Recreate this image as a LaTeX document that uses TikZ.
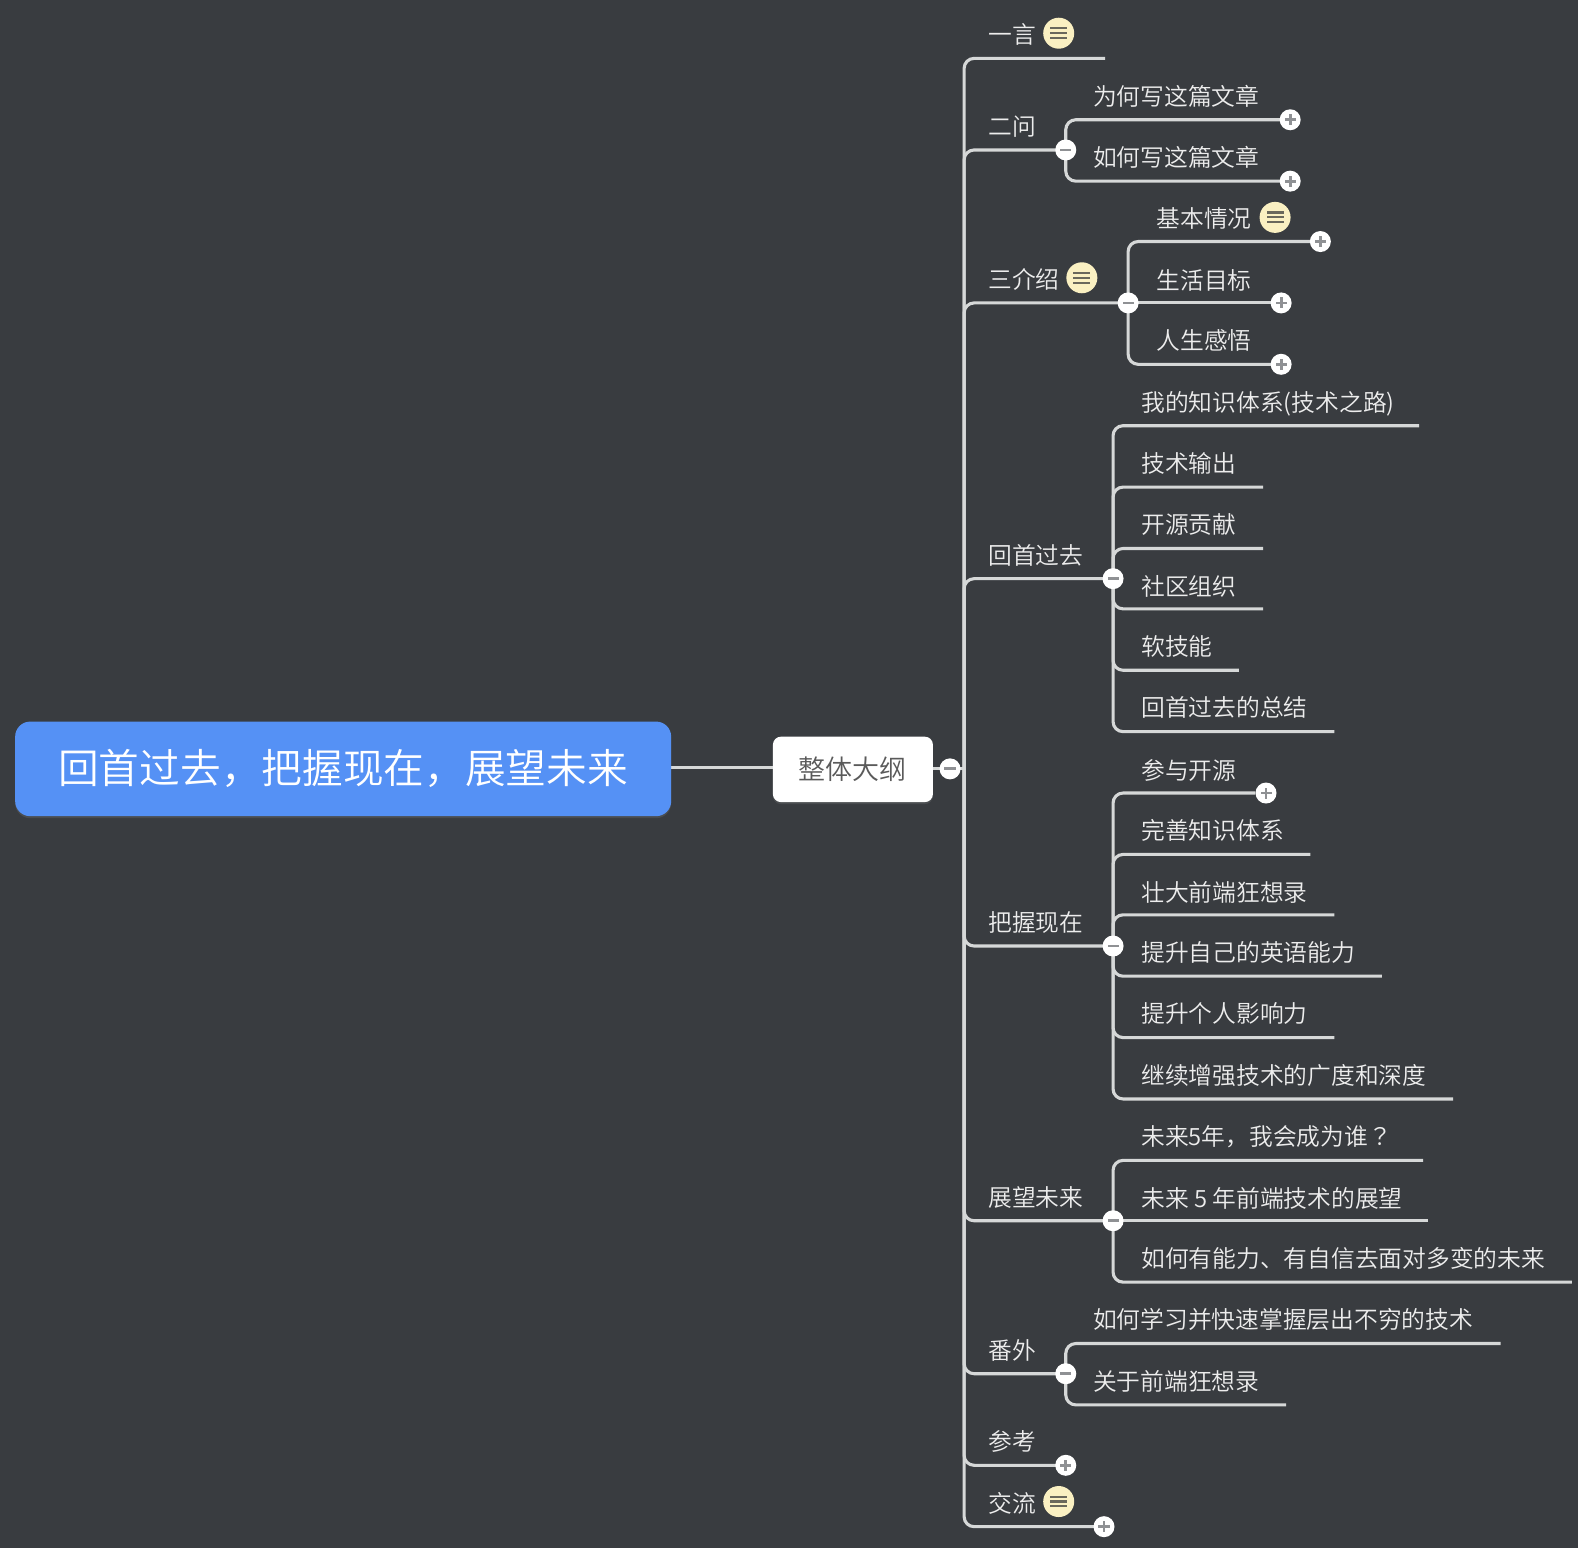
\documentclass[tikz,border=0pt]{standalone}
\usepackage{fontspec}
\setmainfont{Noto Sans CJK SC DemiLight}
\newfontfamily\tcfont{Noto Sans CJK TC DemiLight}
\usetikzlibrary{calc,shadows}
\pgfdeclarelayer{back}
\pgfsetlayers{back,main}
\definecolor{bgc}{HTML}{393C40}
\definecolor{linec}{HTML}{D6D8D8}
\definecolor{txtc}{HTML}{EDEDED}
\definecolor{bluec}{HTML}{5591F5}
\definecolor{boxtxt}{HTML}{5A5A5A}
\definecolor{barc}{HTML}{8F9194}
\definecolor{iconc}{HTML}{FAF0C2}
\definecolor{icondark}{HTML}{6A685C}
\tikzset{
 link/.style={draw=linec,line width=3.1pt,rounded corners=10pt},
 topic/.style={anchor=west,inner sep=0pt,text=txtc,font=\fontsize{23.75pt}{24pt}\selectfont,text height=20pt,text depth=2pt,yshift=-0.5pt},
 knob/.style={circle,fill=white,inner sep=0pt,minimum size=21pt},
 minusknob/.style={knob,path picture={\fill[barc] ($(path picture bounding box.center)+(-5.5,-1.4)$) rectangle ($(path picture bounding box.center)+(5.5,1.4)$);}},
 plusknob/.style={knob,path picture={\fill[barc] ($(path picture bounding box.center)+(-5.5,-1.4)$) rectangle ($(path picture bounding box.center)+(5.5,1.4)$);\fill[barc] ($(path picture bounding box.center)+(-1.4,-5.5)$) rectangle ($(path picture bounding box.center)+(1.4,5.5)$);}},
 noteicon/.style={circle,fill=iconc,inner sep=0pt,minimum size=31pt,path picture={
  \foreach \d in {-4.8,0,4.8}{\fill[icondark] ($(path picture bounding box.center)+(-8.5,\d-1.05)$) rectangle ($(path picture bounding box.center)+(8.5,\d+1.05)$);}}},
}
\begin{document}
\begin{tikzpicture}[x=1.00638pt,y=-1.00638pt]
\useasboundingbox (0,0) rectangle (1568,1538);
\begin{pgfonlayer}{back}
\fill[bgc] (0,0) rectangle (1568,1538);
\end{pgfonlayer}
% central
\node[fill=bluec,rounded corners=15pt,minimum width=656pt,minimum height=94.6pt,inner sep=0pt,text=white,font=\fontsize{40.7pt}{42pt}\selectfont,drop shadow={opacity=.25,shadow xshift=0pt,shadow yshift=-2pt}] (title) at (341,764) {\raisebox{-1pt}{回首过去，把握现在，展望未来}};
\node[fill=white,rounded corners=8pt,minimum width=160pt,minimum height=65.4pt,inner sep=0pt,text=boxtxt,font=\fontsize{27pt}{28pt}\selectfont,drop shadow={opacity=.25,shadow xshift=0pt,shadow yshift=-2pt}] (outline) at (847.5,764.5) {整体大纲};
\node[minusknob] (m0) at (944,764) {};
\coordinate (lk) at (720,762.4);
\coordinate (trunk) at (958,764);
% level one labels
\node[topic] (t1) at (982,34) {一言};
\node[noteicon] (i1) at (1052,33) {};
\coordinate (e1) at (1098,58);
\node[topic] (t2) at (982,125) {二问};
\node[minusknob] (m2) at (1059,149) {};
\node[topic] (t3) at (982,277) {三介绍};
\node[noteicon] (i3) at (1075,276) {};
\node[minusknob] (m3) at (1121,301) {};
\node[topic] (t4) at (982,551) {回首过去};
\node[minusknob] (m4) at (1106,575) {};
\node[topic] (t5) at (982,916) {把握现在};
\node[minusknob] (m5) at (1106,940) {};
\node[topic] (t6) at (982,1189) {展望未来};
\node[minusknob] (m6) at (1106,1213) {};
\node[topic] (t7) at (982,1341) {番外};
\node[minusknob] (m7) at (1059,1365) {};
\node[topic] (t8) at (982,1432) {参考};
\node[plusknob] (p8) at (1059,1456) {};
\node[topic] (t9) at (982,1493) {交流};
\node[noteicon] (i9) at (1052,1492) {};
\node[plusknob] (p9) at (1097,1517) {};
% er wen
\node[topic] (a1) at (1086,95) {为何写这篇文章};
\node[plusknob] (pa1) at (1282,119) {};
\node[topic] (a2) at (1086,156) {如何写这篇文章};
\node[plusknob] (pa2) at (1282,180) {};
% san jieshao
\node[topic] (b1) at (1149,217) {基本情况};
\node[noteicon] (ib1) at (1267,216) {};
\node[plusknob] (pb1) at (1312,240) {};
\node[topic] (b2) at (1149,278) {生活目标};
\node[plusknob] (pb2) at (1273,301) {};
\node[topic] (b3) at (1149,338) {人生感悟};
\node[plusknob] (pb3) at (1273,362) {};
% huishou
\node[topic] (c1) at (1134,399) {我的知识体系(技术之路)};
\coordinate (ec1) at (1410,423);
\node[topic] (c2) at (1134,460) {技术输出};
\coordinate (ec2) at (1255,484);
\node[topic] (c3) at (1134,521) {开源贡献};
\coordinate (ec3) at (1255,545);
\node[topic] (c4) at (1134,582) {社区组织};
\coordinate (ec4) at (1255,605);
\node[topic] (c5) at (1134,642) {软技能};
\coordinate (ec5) at (1231,666);
\node[topic] (c6) at (1134,703) {回首过去的总结};
\coordinate (ec6) at (1326,727);
% bawo
\node[topic] (d1) at (1134,765) {参与开源};
\node[plusknob] (pd1) at (1258,788) {};
\node[topic] (d2) at (1134,825) {完善知识体系};
\coordinate (ed2) at (1302,849);
\node[topic] (d3) at (1134,886) {壮大前端狂想录};
\coordinate (ed3) at (1326,909);
\node[topic] (d4) at (1134,946) {提升自己的英语能力};
\coordinate (ed4) at (1373,970);
\node[topic] (d5) at (1134,1007) {提升个人影响力};
\coordinate (ed5) at (1326,1031);
\node[topic] (d6) at (1134,1068) {继续增强技术的广度和深度};
\coordinate (ed6) at (1444,1092);
% zhanwang
\node[topic] (f1) at (1134,1129) {未来5年，我会成为谁{\tcfont ？}};
\coordinate (ef1) at (1414,1153);
\node[topic] (f2) at (1134,1190) {未来 5 年前端技术的展望};
\coordinate (ef2) at (1419,1213);
\node[topic] (f3) at (1134,1250) {如何有能力、有自信去面对多变的未来};
\coordinate (ef3) at (1562,1274);
% fanwai
\node[topic] (g1) at (1086,1311) {如何学习并快速掌握层出不穷的技术};
\coordinate (eg1) at (1491,1335);
\node[topic] (g2) at (1086,1372) {关于前端狂想录};
\coordinate (eg2) at (1278,1396);
\begin{pgfonlayer}{back}
\draw[link] (title.east |- lk) -- (outline.west |- lk);
\draw[link] (outline.east |- m0) -- (m0.center);
\draw[link] (m0.center) -- (trunk);
\foreach \e in {e1,m2,m3,m4,m5,m6,m7,p8,p9}{\draw[link] (trunk) |- (\e.center);}
\foreach \e in {pa1,pa2}{\draw[link] (m2.center) |- (\e.center);}
\foreach \e in {pb1,pb3}{\draw[link] (m3.center) |- (\e.center);}
\draw[link] (m3.center) -- (pb2.center);
\foreach \e in {ec1,ec2,ec3,ec4,ec5,ec6}{\draw[link] (m4.center) |- (\e);}
\foreach \e in {pd1,ed2,ed3,ed4,ed5,ed6}{\draw[link] (m5.center) |- (\e);}
\foreach \e in {ef1,ef3}{\draw[link] (m6.center) |- (\e);}
\draw[link] (m6.center) -- (ef2);
\foreach \e in {eg1,eg2}{\draw[link] (m7.center) |- (\e);}
\end{pgfonlayer}
\end{tikzpicture}
\end{document}
